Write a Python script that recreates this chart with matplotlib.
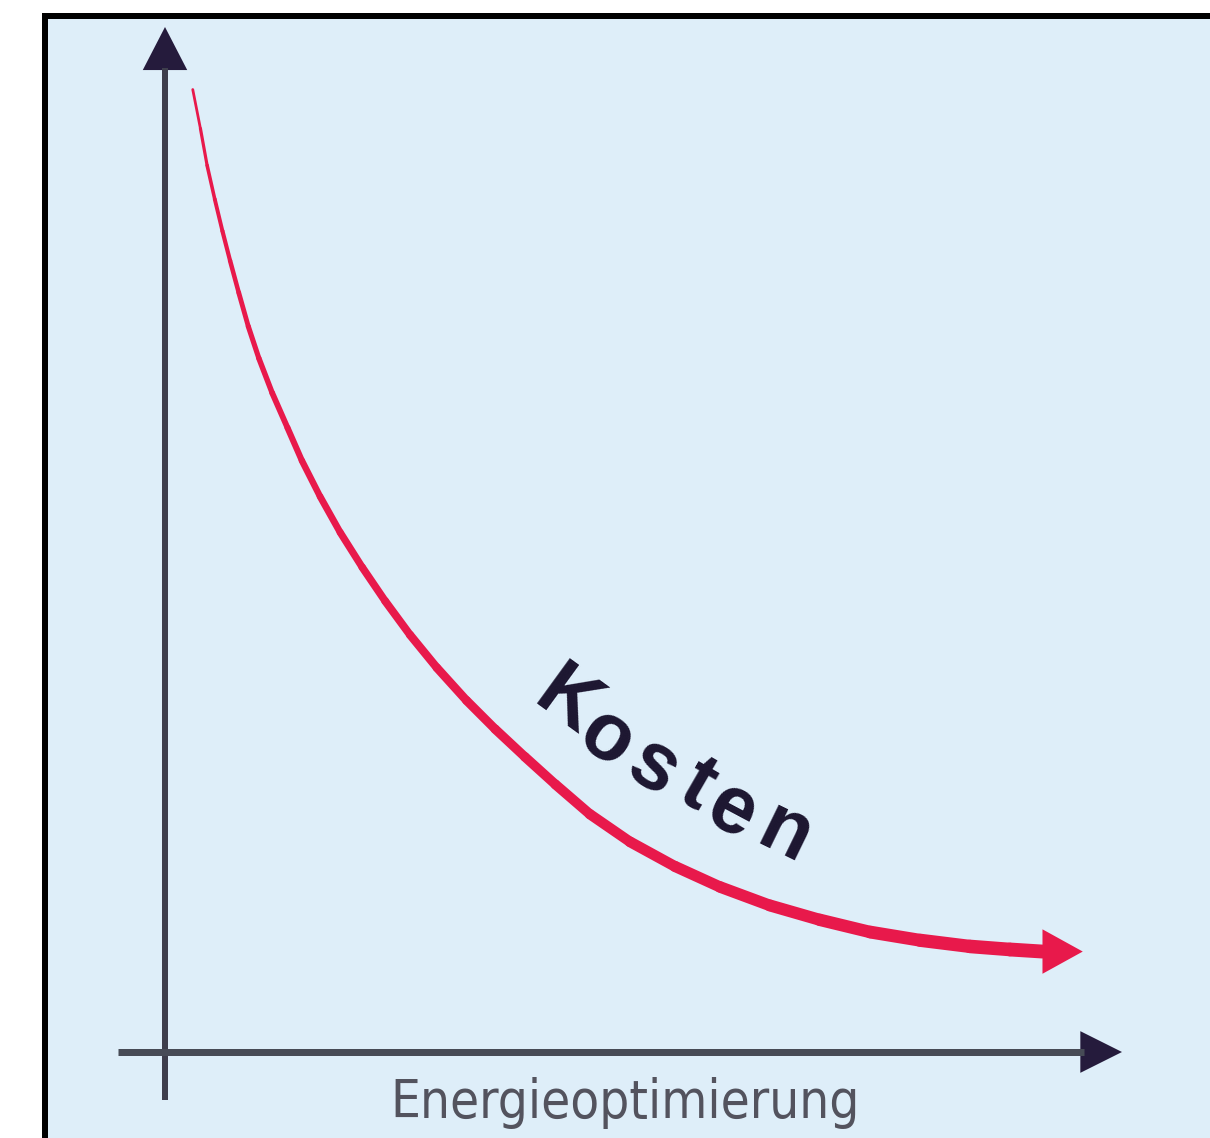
"""Kosten vs. Energieoptimierung: falling cost curve sketch."""

from __future__ import annotations

import matplotlib
matplotlib.use('Agg')
import matplotlib.pyplot as plt
import numpy as np
from matplotlib import font_manager
from matplotlib.collections import LineCollection
from matplotlib.font_manager import FontProperties
from matplotlib.patches import FancyArrowPatch, Rectangle

# cost curve (x: optimisation effort, y: cost, 0..10 scale)
curve_x = [0.29, 0.37, 0.44, 0.52, 0.60, 0.68, 0.77, 0.87, 0.98, 1.12,
           1.28, 1.43, 1.62, 1.83, 2.06, 2.30, 2.56, 2.84, 3.15, 3.45,
           3.76, 4.08, 4.44, 4.86, 5.33, 5.80, 6.32, 6.84, 7.37, 7.89,
           8.41, 8.83, 9.17]
curve_y = [9.39, 9.01, 8.65, 8.32, 8.01, 7.72, 7.41, 7.08, 6.77, 6.43,
           6.09, 5.77, 5.42, 5.07, 4.73, 4.40, 4.07, 3.75, 3.43, 3.15,
           2.88, 2.61, 2.32, 2.05, 1.81, 1.61, 1.43, 1.29, 1.17, 1.09,
           1.03, 1.00, 0.98]
arrow_tip = (9.59, 0.98)

curve_label = 'Kosten'
x_label = 'Energieoptimierung'

BG = '#deeef9'
RED = '#e8194b'
AXIS = '#3e3e4c'
HEAD = '#251b3c'
PX = 72 / 100  # points per pixel at dpi 100
SX, SY = 95.7, 102.5  # pixels per data unit


def _label_font() -> tuple[FontProperties, float]:
    narrow = ('condensed', 'semi-condensed', 'extra-condensed', 'ultra-condensed')
    cands = [f for f in font_manager.fontManager.ttflist
             if (f.stretch in narrow or 'Narrow' in f.name or 'Condensed' in f.name)
             and f.style == 'normal' and f.weight in (400, 'normal', 'regular')]
    cands.sort(key=lambda f: ('Mono' in f.name, 'Serif' in f.name))
    if cands:
        return FontProperties(fname=cands[0].fname), 38
    return FontProperties(family='Liberation Sans'), 39


def plot() -> None:
    fig = plt.figure(figsize=(12.1, 11.38), dpi=100, facecolor='white')

    # picture frame: only top and left edges fall inside the image
    fig.add_artist(Rectangle((45 / 1210, -0.05), 1.1, 1 - 15.5 / 1138 + 0.05,
                             transform=fig.transFigure, facecolor=BG,
                             edgecolor='black', lw=6 * PX, zorder=-1))

    ax = fig.add_axes([165 / 1210, 1 - 1052 / 1138, 957 / 1210, 1025 / 1138])
    ax.set_xlim(0, 10)
    ax.set_ylim(0, 10)
    ax.patch.set_visible(False)
    ax.axis('off')

    # axes with arrow heads
    ax.plot([0, 0], [-0.47, 9.6], color=AXIS, lw=6 * PX, clip_on=False,
            solid_capstyle='butt')
    ax.plot([-0.49, 9.6], [0, 0], color='#474b56', lw=7 * PX, clip_on=False,
            solid_capstyle='butt')
    ax.add_patch(FancyArrowPatch((0, 9.55), (0, 10), mutation_scale=1,
                                 arrowstyle='-|>,head_length=31,head_width=16',
                                 lw=0, facecolor=HEAD, shrinkA=0, shrinkB=0,
                                 clip_on=False))
    ax.add_patch(FancyArrowPatch((9.55, 0), (10, 0), mutation_scale=1,
                                 arrowstyle='-|>,head_length=30,head_width=15',
                                 lw=0, facecolor=HEAD, shrinkA=0, shrinkB=0,
                                 clip_on=False))

    # tapering red cost curve, width grows with distance along the curve
    pts = np.column_stack([curve_x, curve_y])
    segs = np.stack([pts[:-1], pts[1:]], axis=1)
    step = np.hypot(np.diff(pts[:, 0]) * SX, np.diff(pts[:, 1]) * SY)
    along = (np.cumsum(step) - step / 2) / step.sum()
    widths = (2.5 + 11.5 * along ** 0.9) * PX
    ax.add_collection(LineCollection(segs, linewidths=widths, colors=RED,
                                     capstyle='round', joinstyle='round',
                                     zorder=3))
    ax.add_patch(FancyArrowPatch((curve_x[-1], curve_y[-1]), arrow_tip,
                                 mutation_scale=1,
                                 arrowstyle='-|>,head_length=29,head_width=16',
                                 lw=0, facecolor=RED, shrinkA=0, shrinkB=0,
                                 zorder=3))

    # "Kosten" set letter by letter along the curve
    letter_pos = [(4.19, 3.40), (4.61, 3.05), (5.10, 2.77),
                  (5.56, 2.59), (5.92, 2.34), (6.48, 2.12)]
    letter_rot = [-36, -34, -32, -30, -28, -26]
    for ch, (lx, ly), rot in zip(curve_label, letter_pos, letter_rot):
        ax.text(lx, ly, ch, fontsize=58, fontweight='bold', color='#1c1630',
                family='Liberation Sans', rotation=rot, rotation_mode='anchor',
                ha='center', va='center', zorder=4)

    prop, size = _label_font()
    ax.text(4.81, -0.644, x_label, fontproperties=prop, fontsize=size,
            color='#53535e', ha='center', va='baseline', clip_on=False)

    fig.savefig('out.png', dpi=100)
    plt.close(fig)


if __name__ == '__main__':
    plot()
